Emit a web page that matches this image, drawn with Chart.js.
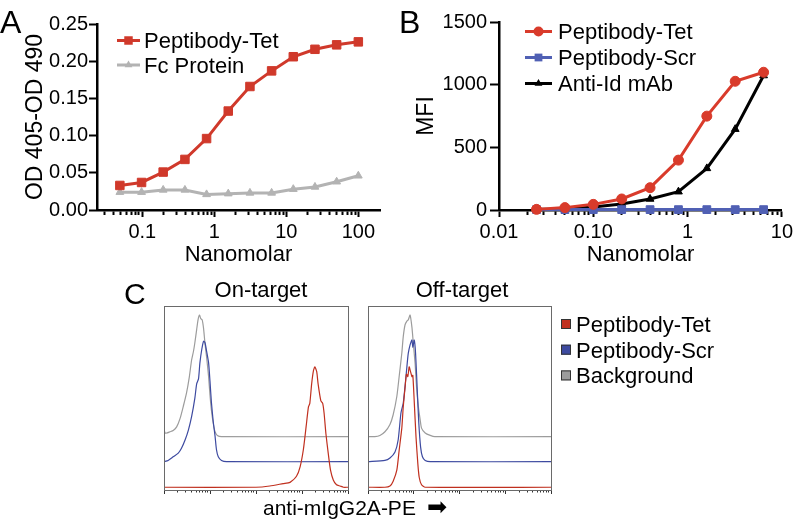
<!DOCTYPE html>
<html><head><meta charset="utf-8">
<script src="https://cdn.jsdelivr.net/npm/chart.js@4/dist/chart.umd.min.js"></script>
<style>
html,body{margin:0;padding:0;background:#fff;width:796px;height:523px;overflow:hidden;position:relative}
.p{position:absolute}
canvas{display:block}
</style></head><body>
<div class="p" style="left:0;top:0"><canvas id="cA" width="400" height="270"></canvas></div>
<div class="p" style="left:400px;top:0"><canvas id="cB" width="396" height="270"></canvas></div>
<div class="p" style="left:110px;top:270px"><canvas id="cC1" width="360" height="253"></canvas></div>
<div class="p" style="left:360px;top:270px"><canvas id="cC2" width="436" height="253"></canvas></div>
<script>
// ---------------- DATA ----------------
// Panel A: ELISA
const A_CONC = [0.0488, 0.0977, 0.195, 0.391, 0.781, 1.5625, 3.125, 6.25, 12.5, 25, 50, 100];
const A_TET  = [0.033, 0.037, 0.051, 0.068, 0.096, 0.133, 0.166, 0.187, 0.206, 0.216, 0.222, 0.226];
const A_FC   = [0.024, 0.024, 0.027, 0.027, 0.021, 0.022, 0.023, 0.023, 0.028, 0.031, 0.038, 0.046];
const A_X_TICKS = [0.1, 1, 10, 100];
const A_X_LABELS = ['0.1', '1', '10', '100'];
const A_Y_TICKS = [0, 0.05, 0.10, 0.15, 0.20, 0.25];
const A_Y_LABELS = ['0.00', '0.05', '0.10', '0.15', '0.20', '0.25'];

// Panel B: flow MFI
const B_CONC = [0.025, 0.05, 0.1, 0.2, 0.4, 0.8, 1.6, 3.2, 6.4];
const B_TET  = [5, 19, 45, 88, 178, 398, 749, 1027, 1099];
const B_SCR  = [3, 3, 3, 3, 3, 3, 3, 3, 3];
const B_ANTI = [5, 8, 24, 48, 88, 146, 332, 645, 1073];
const B_X_TICKS = [0.01, 0.1, 1, 10];
const B_X_LABELS = ['0.01', '0.10', '1', '10'];
const B_Y_TICKS = [0, 500, 1000, 1500];
const B_Y_LABELS = ['0', '500', '1000', '1500'];

// Panel C: histograms, [log10 fluorescence (decades), % of mode]
const ON_TET = [[0,0],[2.0,0],[2.30,1],[2.59,3],[2.74,4],[2.88,9],[2.96,17],[3.03,31],[3.09,50],[3.14,66],[3.17,69],[3.21,85],[3.25,96],[3.28,99],[3.32,95],[3.35,85],[3.41,71],[3.45,69],[3.48,61],[3.52,44],[3.57,28],[3.62,14],[3.68,6],[3.75,2],[3.83,1],[3.9,0],[4,0]];
const ON_SCR = [[0,0],[0.09,1],[0.20,4],[0.31,7],[0.38,11],[0.46,18],[0.53,26],[0.60,37],[0.67,52],[0.71,64],[0.75,68],[0.78,81],[0.82,92],[0.86,99],[0.89,98],[0.93,90],[0.97,81],[1.0,66],[1.03,49],[1.07,33],[1.11,21],[1.14,10],[1.18,4],[1.25,1],[1.36,0],[4,0]];
const ON_BG  = [[0,8],[0.02,3],[0.06,3],[0.13,4],[0.20,5],[0.275,8],[0.35,15],[0.42,25],[0.49,36],[0.55,49],[0.60,63],[0.64,70],[0.67,77],[0.71,88],[0.74,96],[0.77,100],[0.80,97],[0.83,96],[0.86,89],[0.89,77],[0.93,64],[0.97,49],[1.0,34],[1.03,22],[1.07,11],[1.11,4],[1.16,1],[1.25,0],[4,0]];
const OFF_TET = [[0,0],[0.37,0],[0.48,1],[0.55,5],[0.63,14],[0.68,30],[0.74,49],[0.77,66],[0.81,82],[0.84,93],[0.87,91],[0.90,99],[0.93,95],[0.96,91],[0.98,92],[1.01,71],[1.05,41],[1.09,19],[1.12,8],[1.17,2],[1.25,0],[4,0]];
const OFF_SCR = [[0,0],[0.37,1],[0.48,3],[0.59,8],[0.66,18],[0.72,40],[0.77,48],[0.81,62],[0.85,78],[0.88,89],[0.92,96],[0.96,100],[0.98,94],[1.01,100],[1.04,89],[1.08,56],[1.11,32],[1.15,12],[1.19,4],[1.25,1],[1.36,0],[4,0]];
const OFF_BG  = [[0,0],[0.15,0],[0.26,1],[0.37,4],[0.48,10],[0.55,18],[0.63,33],[0.68,49],[0.74,69],[0.77,82],[0.81,92],[0.85,95],[0.88,96],[0.92,100],[0.96,90],[0.99,77],[1.03,60],[1.06,41],[1.10,25],[1.14,14],[1.17,7],[1.25,3],[1.36,1],[1.46,0],[4,0]];
const C_SERIES = ['Peptibody-Tet', 'Peptibody-Scr', 'Background'];

// ---------------- STYLE ----------------
const FONT = '"Liberation Sans", Arial, Helvetica, sans-serif';
const RED_A = '#d0392b', GREY_A = '#b3b3b3';
const RED_B = '#d93b2b', BLUE_B = '#5060b4', BLACK = '#000000';
const H_RED = '#c0301f', H_BLUE = '#3d4aa0', H_GREY = '#9c9c9c';
const HIST_STYLE = { scale: 0.661, offsets: [1.5, 15.4, 29], colors: [H_RED, H_BLUE, H_GREY] };

Chart.defaults.font.family = FONT;
Chart.defaults.color = '#000';

// ---------------- HELPERS ----------------
function near(a, b) { return a === b || Math.abs(a - b) <= 1e-9 * Math.max(Math.abs(a), Math.abs(b)); }
function logTickValues(min, max) {
  const out = [];
  for (let e = Math.floor(Math.log10(min)); e <= Math.ceil(Math.log10(max)); e++) {
    for (let k = 1; k <= 9; k++) {
      const v = +(k * Math.pow(10, e)).toPrecision(8);
      if (v >= min * 0.9999 && v <= max * 1.0001) out.push(v);
    }
  }
  return out;
}
function setTicks(values, majors) {
  return scale => { scale.ticks = values.map(v => ({ value: v, major: majors.some(m => near(m, v)) })); };
}
function labeller(values, labels) {
  return v => { const i = values.findIndex(m => near(m, v)); return i >= 0 ? labels[i] : ''; };
}
function drawMarker(ctx, style, r, x, y) {
  ctx.beginPath();
  if (style === 'circle') { ctx.arc(x, y, r, 0, Math.PI * 2); }
  else if (style === 'rect') { const s = r * Math.SQRT1_2; ctx.rect(x - s, y - s, 2 * s, 2 * s); }
  else if (style === 'triangle') {
    let a = 0;
    ctx.moveTo(x + Math.sin(a) * r, y - Math.cos(a) * r); a += 2 * Math.PI / 3;
    ctx.lineTo(x + Math.sin(a) * r, y - Math.cos(a) * r); a += 2 * Math.PI / 3;
    ctx.lineTo(x + Math.sin(a) * r, y - Math.cos(a) * r); ctx.closePath();
  }
  ctx.fill();
}

const textPlugin = {
  id: 'texts',
  afterDraw(chart, args, opts) {
    const ctx = chart.ctx;
    (opts.items || []).forEach(it => {
      ctx.save();
      ctx.font = it.font; ctx.fillStyle = it.color || '#000';
      ctx.textAlign = it.align || 'left'; ctx.textBaseline = it.baseline || 'alphabetic';
      ctx.fillText(it.text, it.x, it.y);
      ctx.restore();
    });
  }
};
const lineLegend = {
  id: 'lineLegend',
  afterDraw(chart, args, o) {
    if (o.x === undefined) return;
    const ctx = chart.ctx;
    chart.data.datasets.forEach((ds, i) => {
      const y = o.y + i * o.rowH;
      ctx.save();
      ctx.strokeStyle = ds.borderColor; ctx.lineWidth = ds.borderWidth;
      ctx.beginPath(); ctx.moveTo(o.x, y); ctx.lineTo(o.x + o.len, y); ctx.stroke();
      ctx.fillStyle = ds.pointBackgroundColor;
      drawMarker(ctx, ds.pointStyle, ds.pointRadius, o.x + o.len / 2, y);
      ctx.font = o.font; ctx.fillStyle = '#000'; ctx.textAlign = 'left'; ctx.textBaseline = 'alphabetic';
      ctx.fillText(ds.label, o.x + o.len + o.gap, y + o.dy);
      ctx.restore();
    });
  }
};
const boxLegend = {
  id: 'boxLegend',
  afterDraw(chart, args, o) {
    if (o.x === undefined) return;
    const ctx = chart.ctx;
    o.labels.forEach((lab, i) => {
      const y = o.y + i * o.rowH;
      ctx.save();
      ctx.fillStyle = o.colors[i]; ctx.strokeStyle = '#333'; ctx.lineWidth = 1;
      ctx.fillRect(o.x, y - o.size / 2, o.size, o.size);
      ctx.strokeRect(o.x + 0.5, y - o.size / 2 + 0.5, o.size - 1, o.size - 1);
      ctx.font = o.font; ctx.fillStyle = '#000'; ctx.textAlign = 'left'; ctx.textBaseline = 'alphabetic';
      ctx.fillText(lab, o.x + o.size + o.gap, y + o.dy);
      ctx.restore();
    });
  }
};
const framePlugin = {
  id: 'frame',
  afterDraw(chart, args, o) {
    if (!o.color) return;
    const a = chart.chartArea, ctx = chart.ctx;
    ctx.save(); ctx.strokeStyle = o.color; ctx.lineWidth = o.width;
    ctx.strokeRect(Math.round(a.left) + 0.5, Math.round(a.top) + 0.5, Math.round(a.right - a.left), Math.round(a.bottom - a.top));
    ctx.restore();
  }
};
const minorDash = len => ctx => (ctx.tick && ctx.tick.major) ? [] : [len, 200];

function xyData(xs, ys) { return xs.map((x, i) => ({ x, y: ys[i] })); }
function lineDs(label, xs, ys, color, style, r) {
  return { label, data: xyData(xs, ys), borderColor: color, backgroundColor: color,
    pointBackgroundColor: color, pointBorderColor: color, pointStyle: style, pointRadius: r,
    pointBorderWidth: 1, borderWidth: 3, tension: 0, clip: false };
}

// ---------------- PANEL A ----------------
const A_XMIN = 0.0235, A_XMAX = 200;
new Chart(document.getElementById('cA'), {
  type: 'line',
  data: { datasets: [
    lineDs('Peptibody-Tet', A_CONC, A_TET, RED_A, 'rect', 6),
    lineDs('Fc Protein', A_CONC, A_FC, GREY_A, 'triangle', 4.5)
  ]},
  options: {
    responsive: false, animation: false, events: [],
    layout: { padding: { left: 22, top: 24, right: 20, bottom: 0 } },
    plugins: {
      legend: { display: false }, tooltip: { enabled: false },
      lineLegend: { x: 117, y: 40.5, rowH: 24.5, len: 23, gap: 4, dy: 7.5, font: '22px ' + FONT },
      texts: { items: [{ text: 'A', x: 0, y: 33, font: '32px ' + FONT }] }
    },
    scales: {
      x: {
        type: 'logarithmic', min: A_XMIN, max: A_XMAX,
        afterBuildTicks: setTicks(logTickValues(A_XMIN, 100), A_X_TICKS),
        afterFit: s => { s.height = 60; },
        ticks: { autoSkip: false, maxRotation: 0, padding: 3, font: { size: 20 }, callback: labeller(A_X_TICKS, A_X_LABELS) },
        grid: { drawOnChartArea: false, tickLength: 7, tickWidth: 2, tickColor: '#000', tickBorderDash: minorDash(3.5) },
        border: { width: 2.5, color: '#000' },
        title: { display: true, text: 'Nanomolar', font: { size: 22 }, padding: { top: 0, bottom: 2 } }
      },
      y: {
        min: 0, max: 0.25,
        afterBuildTicks: setTicks(A_Y_TICKS, A_Y_TICKS),
        afterFit: s => { s.width = 75; },
        ticks: { padding: 1, font: { size: 20 }, callback: labeller(A_Y_TICKS, A_Y_LABELS) },
        grid: { drawOnChartArea: false, tickLength: 8, tickWidth: 2, tickColor: '#000' },
        border: { width: 2.5, color: '#000' },
        title: { display: true, text: 'OD 405-OD 490', font: { size: 23 }, padding: { top: 0, bottom: 0 } }
      }
    }
  },
  plugins: [lineLegend, textPlugin]
});

// ---------------- PANEL B ----------------
const B_XMIN = 0.01, B_XMAX = 10;
new Chart(document.getElementById('cB'), {
  type: 'line',
  data: { datasets: [
    lineDs('Peptibody-Tet', B_CONC, B_TET, RED_B, 'circle', 5),
    lineDs('Peptibody-Scr', B_CONC, B_SCR, BLUE_B, 'rect', 5.5),
    lineDs('Anti-Id mAb', B_CONC, B_ANTI, BLACK, 'triangle', 4.5)
  ]},
  options: {
    responsive: false, animation: false, events: [],
    layout: { padding: { left: 13, top: 22, right: 11, bottom: 0 } },
    plugins: {
      legend: { display: false }, tooltip: { enabled: false },
      lineLegend: { x: 125, y: 31.5, rowH: 26, len: 27, gap: 6, dy: 7.5, font: '22px ' + FONT },
      texts: { items: [{ text: 'B', x: -1, y: 33, font: '32px ' + FONT }] }
    },
    scales: {
      x: {
        type: 'logarithmic', min: B_XMIN, max: B_XMAX,
        afterBuildTicks: setTicks(logTickValues(B_XMIN, B_XMAX), B_X_TICKS),
        afterFit: s => { s.height = 60; },
        ticks: { autoSkip: false, maxRotation: 0, padding: 3, font: { size: 20 }, callback: labeller(B_X_TICKS, B_X_LABELS) },
        grid: { drawOnChartArea: false, tickLength: 7, tickWidth: 2, tickColor: '#000', tickBorderDash: minorDash(3.5) },
        border: { width: 2.5, color: '#000' },
        title: { display: true, text: 'Nanomolar', font: { size: 22 }, padding: { top: 0, bottom: 2 } }
      },
      y: {
        min: 0, max: 1500,
        afterBuildTicks: setTicks(B_Y_TICKS, B_Y_TICKS),
        afterFit: s => { s.width = 86; },
        ticks: { padding: 3, font: { size: 20 }, callback: labeller(B_Y_TICKS, B_Y_LABELS) },
        grid: { drawOnChartArea: false, tickLength: 9, tickWidth: 2, tickColor: '#000' },
        border: { width: 2.5, color: '#000' },
        title: { display: true, text: 'MFI', font: { size: 23 }, padding: { top: 0, bottom: 0 } }
      }
    }
  },
  plugins: [lineLegend, textPlugin]
});

// ---------------- PANEL C ----------------
const H_TICKS = [];
for (let d = 0; d < 4; d++) for (let k = 1; k <= 9; k++) H_TICKS.push(d + Math.log10(k));
H_TICKS.push(4);
const H_MAJORS = [0, 1, 2, 3, 4];

function histDatasets(curves) {
  return curves.map((pts, i) => ({
    label: C_SERIES[i],
    data: pts.map(([x, c]) => ({ x, y: HIST_STYLE.offsets[i] + c * HIST_STYLE.scale })),
    borderColor: HIST_STYLE.colors[i], borderWidth: 1.2, pointRadius: 0, tension: 0.2, fill: false
  }));
}
function histOptions(padding, pluginsExtra) {
  return {
    responsive: false, animation: false, events: [],
    layout: { padding },
    plugins: Object.assign({ legend: { display: false }, tooltip: { enabled: false }, frame: { color: '#6a6a6a', width: 1 } }, pluginsExtra),
    scales: {
      x: {
        type: 'linear', min: 0, max: 4,
        afterBuildTicks: setTicks(H_TICKS, H_MAJORS),
        afterFit: s => { s.height = 4; },
        ticks: { display: false, autoSkip: false },
        grid: { drawOnChartArea: false, tickLength: 4, tickWidth: 1, tickColor: '#333', tickBorderDash: minorDash(2.5) },
        border: { display: false }
      },
      y: { display: false, min: 0, max: 100 }
    }
  };
}

new Chart(document.getElementById('cC1'), {
  type: 'line',
  data: { datasets: histDatasets([ON_TET, ON_SCR, ON_BG]) },
  options: histOptions({ left: 54, right: 122, top: 36, bottom: 29 }, {
    texts: { items: [
      { text: 'C', x: 14, y: 33.5, font: '30px ' + FONT },
      { text: 'On-target', x: 151, y: 27, font: '22px ' + FONT, align: 'center' },
      { text: 'anti-mIgG2A-PE', x: 153, y: 245, font: '21px ' + FONT },
      { text: '\u27A1', x: 317, y: 239, font: '24px "DejaVu Sans"', baseline: 'middle' }
    ] }
  }),
  plugins: [framePlugin, textPlugin]
});

new Chart(document.getElementById('cC2'), {
  type: 'line',
  data: { datasets: histDatasets([OFF_TET, OFF_SCR, OFF_BG]) },
  options: histOptions({ left: 8, right: 245, top: 36, bottom: 29 }, {
    texts: { items: [
      { text: 'Off-target', x: 102, y: 27, font: '22px ' + FONT, align: 'center' }
    ] },
    boxLegend: { x: 201, y: 54, rowH: 25.7, size: 10, gap: 5, dy: 8, font: '22px ' + FONT,
      labels: C_SERIES, colors: HIST_STYLE.colors }
  }),
  plugins: [framePlugin, textPlugin, boxLegend]
});
</script>
</body></html>
